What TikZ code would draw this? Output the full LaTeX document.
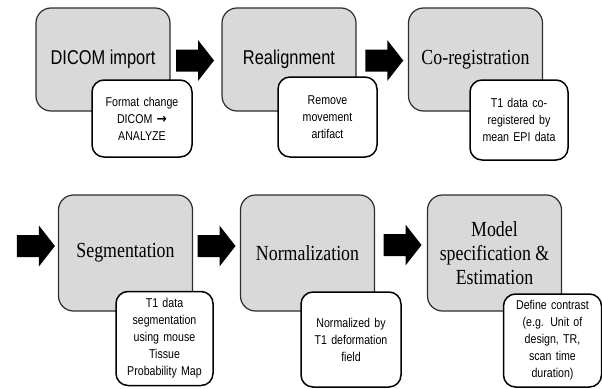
\documentclass[tikz,border=0pt]{standalone}
\usepackage{fontspec}
\setmainfont{Liberation Sans}
\newfontfamily\stagesans[FakeStretch=0.82]{Liberation Sans}
\newfontfamily\stageserif[FakeStretch=0.83]{Liberation Serif}
\newfontfamily\notesans[FakeStretch=0.83]{Liberation Sans}
\newfontfamily\arrowfont[FakeStretch=0.9]{DejaVu Sans}
\usetikzlibrary{calc}

\definecolor{stagegray}{RGB}{217,217,217}
\definecolor{edgegray}{RGB}{45,45,45}

\tikzset{
  stagebox/.style={draw=edgegray, line width=1.2pt, fill=stagegray,
    rounded corners=15pt, minimum width=134pt, inner sep=0pt, align=center},
  notebox/.style={draw=black, line width=1.5pt, fill=white,
    rounded corners=12pt, inner sep=0pt, text width=92pt, align=center,
    font=\notesans\fontsize{12.8}{17}\selectfont},
  sanslabel/.style={font=\stagesans\fontsize{20}{24}\selectfont},
  seriflabel/.style={font=\stageserif\fontsize{21.5}{24}\selectfont},
  blockarrow/.pic={
    \fill (-19,-11) -- (3,-11) -- (3,-20.5) -- (19,0) -- (3,20.5) -- (3,11) -- (-19,11) -- cycle;
  }
}

\begin{document}
\begin{tikzpicture}[x=1pt,y=-1pt]
		\useasboundingbox (0,0) rectangle (602,388);
		% processing stages
		\node[stagebox, sanslabel, minimum height=103pt] (import) at (103,59.5) {DICOM import};
		\node[stagebox, sanslabel, minimum height=103pt] (realign) at (289,59.5) {Realignment};
		\node[stagebox, seriflabel, minimum height=103pt] (coreg) at (475.5,59.5) {Co-registration};
		\node[stagebox, seriflabel, minimum height=116pt] (segment) at (125.5,253) {Segmentation};
		\node[stagebox, seriflabel, minimum height=116pt] (normal) at (307.5,253) {Normalization};
		\node[stagebox, seriflabel, minimum height=116pt] (model) at (494.5,253) {Model\\specification \&\\Estimation};
		% block arrows
		\pic at ($(import.east)!0.5!(realign.west)+(-1,1)$) {blockarrow};
		\pic at ($(realign.east)!0.5!(coreg.west)+(2,1)$) {blockarrow};
		\pic at ($(segment.west)+(-22,-7)$) {blockarrow};
		\pic at ($(segment.east)!0.5!(normal.west)+(0,-7)$) {blockarrow};
		\pic at ($(normal.east)!0.5!(model.west)+(1.5,-8)$) {blockarrow};
		% notes
		\node[notebox, minimum width=100pt, minimum height=77pt] (importnote) at (142,118.5) {Format change\\DICOM {\arrowfont\bfseries\fontsize{13.5}{17}\selectfont →}\\ANALYZE};
		\node[notebox, minimum width=99pt, minimum height=80pt] (realignnote) at (327.5,117) {Remove\\movement\\artifact};
		\node[notebox, minimum width=98pt, minimum height=80pt] (coregnote) at (519,120) {T1 data co-\\registered by\\mean EPI data};
		\node[notebox, minimum width=97pt, minimum height=94pt] (segmentnote) at (164.5,338.5) {T1 data\\segmentation\\using mouse\\Tissue\\Probability Map};
		\node[notebox, minimum width=100pt, minimum height=95pt] (normalnote) at (351,339.5) {Normalized by\\T1 deformation\\field};
		\node[notebox, minimum width=98pt, minimum height=93pt] (modelnote) at (552.5,340.5) {Define contrast\\(e.g. Unit of\\design, TR,\\scan time\\duration)};
	\end{tikzpicture}
\end{document}
